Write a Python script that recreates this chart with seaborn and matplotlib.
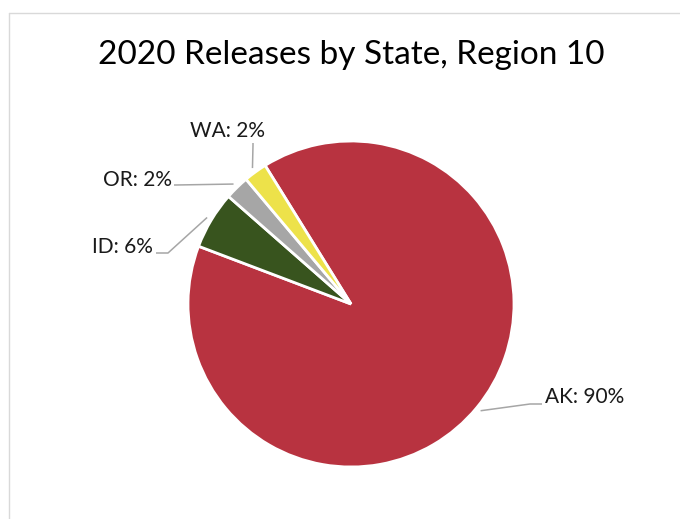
import numpy as np
import seaborn as sns
import matplotlib.pyplot as plt
from matplotlib.lines import Line2D

states = ["AK", "ID", "OR", "WA"]
shares = [89.6, 5.7, 2.4, 2.3]
colors = ["#B83340", "#38541E", "#A6A6A6", "#EDE24A"]
title = "2020 Releases by State, Region 10"

sns.set_theme(style="white")
plt.rcParams["font.family"] = ["Lato", "DejaVu Sans"]

W, H = 680, 519
fig = plt.figure(figsize=(W / 100, H / 100), dpi=100)
ax = fig.add_axes([0, 0, 1, 1])

cx, cy, r = 351, H - 304, 163
start = 121.8
wedges, _ = ax.pie(shares, colors=colors, startangle=start, counterclock=False,
                   center=(cx, cy), radius=r, frame=True,
                   wedgeprops=dict(edgecolor="white", linewidth=2))
ax.set_xlim(0, W)
ax.set_ylim(0, H)
ax.set_aspect("equal")
ax.axis("off")

# leader line bends / ends (pixel layout)
label_pos = {
    "AK": [(530, 404), (542, 404)],
    "ID": [(168, 253), (156, 253)],
    "OR": [(176, 185), (174, 185)],
    "WA": [(253, 145), (253, 143)],
}
text_pos = {
    "AK": (545, 397, "left"),
    "ID": (153, 247, "right"),
    "OR": (172, 180, "right"),
    "WA": (228, 131, "center"),
}
for w, st, v in zip(wedges, states, shares):
    mid = np.deg2rad((w.theta1 + w.theta2) / 2)
    x0 = cx + r * 1.03 * np.cos(mid)
    y0 = cy + r * 1.03 * np.sin(mid)
    pts = [(x0, y0)] + [(px, H - py) for px, py in label_pos[st]]
    xs, ys = zip(*pts)
    ax.plot(xs, ys, color="#A6A6A6", lw=1.1, solid_capstyle="butt")
    tx, ty, ha = text_pos[st]
    ax.text(tx, H - ty, f"{st}: {v:.0f}%", ha=ha, va="center", fontsize=15,
            color="#1a1a1a")

ax.text(351, H - 55, title, ha="center", va="center", fontsize=24, color="black")

# chart area frame
fig.add_artist(Line2D([9 / W, 9 / W], [0, 1 - 13 / H], transform=fig.transFigure,
                      color="#D9D9D9", lw=1))
fig.add_artist(Line2D([9 / W, 1], [1 - 13 / H, 1 - 13 / H], transform=fig.transFigure,
                      color="#D9D9D9", lw=1))

fig.savefig("out.png", dpi=100, facecolor="white")
